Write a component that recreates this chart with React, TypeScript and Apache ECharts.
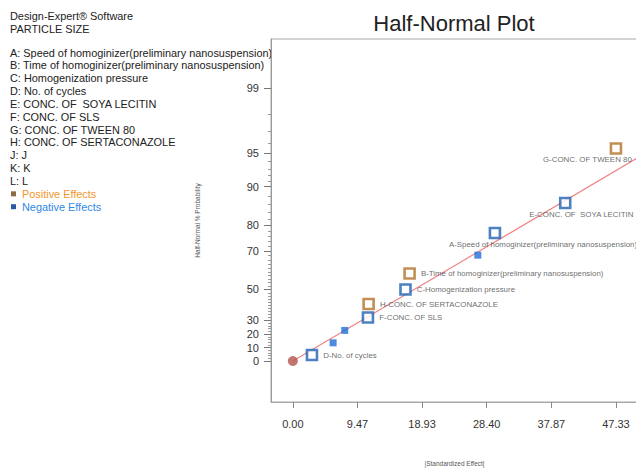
import React, { useEffect, useRef } from 'react';
import * as echarts from 'echarts';

// ---------- data ----------
const headerLines = ['Design-Expert® Software', 'PARTICLE SIZE'];
const factorLines = [
  'A: Speed of homoginizer(preliminary nanosuspension)',
  'B: Time of homoginizer(preliminary nanosuspension)',
  'C: Homogenization pressure',
  'D: No. of cycles',
  'E: CONC. OF  SOYA LECITIN',
  'F: CONC. OF SLS',
  'G: CONC. OF TWEEN 80',
  'H: CONC. OF SERTACONAZOLE',
  'J: J',
  'K: K',
  'L: L',
];
const legendLabels = ['Positive Effects', 'Negative Effects'];

// effects sorted by |standardized effect|
const effectKeys = ['D', 'J', 'K', 'F', 'H', 'C', 'B', 'L', 'A', 'E', 'G'];
const effectLabels = [
  'D-No. of cycles',
  '',
  '',
  'F-CONC. OF SLS',
  'H-CONC. OF SERTACONAZOLE',
  'C-Homogenization pressure',
  'B-Time of homoginizer(preliminary nanosuspension)',
  '',
  'A-Speed of homoginizer(preliminary nanosuspension)',
  'E-CONC. OF  SOYA LECITIN',
  'G-CONC. OF TWEEN 80',
];
const effectValues = [2.8, 5.9, 7.6, 11.0, 11.1, 16.5, 17.1, 27.1, 29.6, 39.9, 47.33];
const effectPercents = [4.5, 13.6, 22.7, 31.8, 40.9, 50.0, 59.1, 68.2, 77.3, 86.4, 95.5];
const effectSigns = ['neg', 'neg', 'neg', 'neg', 'pos', 'neg', 'pos', 'neg', 'neg', 'neg', 'pos'];

const originPoint = [0, 0];
const fitLine = [
  [0, 0],
  [50.56, 94.5],
];

const xTickValues = [0, 9.47, 18.93, 28.4, 37.87, 47.33];
const yTickPercents = [0, 10, 20, 30, 50, 70, 80, 90, 95, 99];
const yMinorPercents = [
  2, 4, 6, 8, 12, 14, 16, 18, 22, 24, 26, 28, 32, 34, 36, 38, 40, 42, 44, 46, 48, 52, 54, 56, 58, 60, 62, 64, 66,
  68, 72, 74, 76, 78, 82, 84, 86, 88, 91, 92, 93, 94, 96, 97, 98,
];

// ---------- scale helpers (half-normal probability axis) ----------
function invNorm(p: number): number {
  const a = [-3.969683028665376e1, 2.209460984245205e2, -2.759285104469687e2, 1.38357751867269e2, -3.066479806614716e1, 2.506628277459239];
  const b = [-5.447609879822406e1, 1.615858368580409e2, -1.556989798598866e2, 6.680131188771972e1, -1.328068155288572e1];
  const c = [-7.784894002430293e-3, -3.223964580411365e-1, -2.400758277161838, -2.549732539343734, 4.374664141464968, 2.938163982698783];
  const d = [7.784695709041462e-3, 3.224671290700398e-1, 2.445134137142996, 3.754408661907416];
  const pl = 0.02425;
  let q: number, r: number;
  if (p < pl) {
    q = Math.sqrt(-2 * Math.log(p));
    return (((((c[0] * q + c[1]) * q + c[2]) * q + c[3]) * q + c[4]) * q + c[5]) / ((((d[0] * q + d[1]) * q + d[2]) * q + d[3]) * q + 1);
  }
  if (p <= 1 - pl) {
    q = p - 0.5;
    r = q * q;
    return ((((((a[0] * r + a[1]) * r + a[2]) * r + a[3]) * r + a[4]) * r + a[5]) * q) / (((((b[0] * r + b[1]) * r + b[2]) * r + b[3]) * r + b[4]) * r + 1);
  }
  q = Math.sqrt(-2 * Math.log(1 - p));
  return -(((((c[0] * q + c[1]) * q + c[2]) * q + c[3]) * q + c[4]) * q + c[5]) / ((((d[0] * q + d[1]) * q + d[2]) * q + d[3]) * q + 1);
}
const hz = (pct: number) => (pct <= 0 ? 0 : invNorm(0.5 + pct / 200));

// ---------- styling ----------
const FONT = "'Liberation Sans', Arial, sans-serif";
const BLUE = '#2062b2';
const BROWN = '#b3722c';
const FILLED_BLUE = '#1f6fd8';
const X_MIN = -3.2;
const X_MAX = 50.56;
const Y_MIN = -0.387;
const Y_MAX = 3.038;
const labelLayout: Record<string, any> = {
  D: { position: 'right', distance: 5 },
  F: { position: 'right', distance: 5 },
  H: { position: 'right', distance: 5 },
  C: { position: 'right', distance: 5 },
  B: { position: 'right', distance: 5 },
  A: { position: 'bottom', align: 'left', offset: [-46, 0], distance: 1 },
  E: { position: 'bottom', align: 'left', offset: [-36, 0], distance: 1 },
  G: { position: 'bottom', align: 'left', offset: [-73, 0], distance: 1 },
};

export default function App() {
  const ref = useRef<HTMLDivElement>(null);
  useEffect(() => {
    const chart = echarts.init(ref.current!, null, { renderer: 'svg' });

    const labeledData: any[] = [];
    const filledData: any[] = [];
    effectKeys.forEach((k, i) => {
      const pt = [effectValues[i], hz(effectPercents[i])];
      if (effectLabels[i]) {
        const col = effectSigns[i] === 'pos' ? BROWN : BLUE;
        labeledData.push({
          value: pt,
          itemStyle: { color: '#ffffff', borderColor: col, borderWidth: 2.6 },
          label: {
            show: true,
            formatter: effectLabels[i],
            ...labelLayout[k],
          },
        });
      } else {
        filledData.push({ value: pt });
      }
    });

    const graphics: any[] = [];
    headerLines.forEach((t, i) => {
      graphics.push({
        type: 'text',
        x: 10,
        y: 16 + i * 13,
        style: { text: t, fill: '#222', font: `10.9px ${FONT}`, verticalAlign: 'middle' },
      });
    });
    factorLines.forEach((t, i) => {
      graphics.push({
        type: 'text',
        x: 10,
        y: 52.5 + i * 12.85,
        style: { text: t, fill: '#222', font: `10.9px ${FONT}`, verticalAlign: 'middle' },
      });
    });
    legendLabels.forEach((t, i) => {
      const y = 52.5 + (factorLines.length + i) * 12.85;
      graphics.push({
        type: 'rect',
        shape: { x: 11, y: y - 2.5, width: 5, height: 5 },
        style: { fill: i === 0 ? '#8e6a45' : '#2a5aa6' },
      });
      graphics.push({
        type: 'text',
        x: 22,
        y,
        style: { text: t, fill: i === 0 ? '#f2962c' : '#2e8ae6', font: `10.9px ${FONT}`, verticalAlign: 'middle' },
      });
    });
    graphics.push({
      type: 'text',
      x: 454,
      y: 23,
      style: { text: 'Half-Normal Plot', fill: '#222', font: `22px ${FONT}`, align: 'center', verticalAlign: 'middle' },
    });

    const yMajor = yTickPercents.map(hz);
    const yMinor = yMinorPercents.map(hz);

    const option: any = {
      animation: false,
      backgroundColor: '#ffffff',
      textStyle: { fontFamily: FONT },
      graphic: graphics,
      grid: {
        left: 271,
        right: -2,
        top: 39,
        bottom: 67,
        show: true,
        borderColor: '#a8a8a8',
        borderWidth: 1,
        containLabel: false,
        outerBoundsMode: 'none',
      },
      xAxis: {
        type: 'value',
        min: X_MIN,
        max: X_MAX,
        name: '|Standardized Effect|',
        nameLocation: 'middle',
        nameGap: 58,
        nameTextStyle: { fontSize: 6.5, color: '#555' },
        splitLine: { show: false },
        axisLine: { show: true, onZero: false, lineStyle: { color: '#a8a8a8' } },
        axisTick: { show: true, customValues: xTickValues, length: 6, lineStyle: { color: '#888' } },
        axisLabel: {
          customValues: xTickValues,
          formatter: (v: number) => v.toFixed(2),
          color: '#333',
          fontSize: 11,
          margin: 16,
        },
      },
      yAxis: [
        {
          type: 'value',
          min: Y_MIN,
          max: Y_MAX,
          position: 'left',
          name: 'Half-Normal % Probability',
          nameLocation: 'middle',
          nameGap: 70,
          nameRotate: 90,
          nameTextStyle: { fontSize: 6.5, color: '#555' },
          splitLine: { show: false },
          axisLine: { show: true, onZero: false, lineStyle: { color: '#9a9a9a' } },
          axisTick: { show: true, customValues: yMajor, length: 7, lineStyle: { color: '#777' } },
          axisLabel: {
            customValues: yMajor,
            formatter: (v: number) => {
              let best = 0;
              yTickPercents.forEach((p, i) => {
                if (Math.abs(hz(p) - v) < Math.abs(hz(yTickPercents[best]) - v)) best = i;
              });
              return String(yTickPercents[best]);
            },
            color: '#333',
            fontSize: 11,
            margin: 12,
          },
        },
        {
          type: 'value',
          min: Y_MIN,
          max: Y_MAX,
          position: 'left',
          offset: 0,
          splitLine: { show: false },
          axisLine: { show: false, onZero: false },
          axisLabel: { show: false },
          axisTick: { show: true, customValues: yMinor, length: 3, lineStyle: { color: '#999' } },
        },
      ],
      series: [
        {
          type: 'line',
          data: fitLine.map(([x, p]) => [x, hz(p)]),
          symbol: 'none',
          silent: true,
          lineStyle: { color: '#f08585', width: 1.2 },
          z: 1,
        },
        {
          type: 'scatter',
          data: [[originPoint[0], hz(originPoint[1])]],
          symbol: 'circle',
          symbolSize: 10,
          itemStyle: { color: '#b4544c' },
          z: 3,
        },
        {
          type: 'scatter',
          data: filledData,
          symbol: 'rect',
          symbolSize: 7,
          itemStyle: { color: FILLED_BLUE },
          z: 3,
        },
        {
          type: 'scatter',
          data: labeledData,
          symbol: 'rect',
          symbolSize: 10,
          z: 4,
          label: { color: '#444', fontSize: 7.9, fontFamily: FONT },
        },
      ],
    };
    chart.setOption(option);
    return () => chart.dispose();
  }, []);
  return (
    <div
      ref={ref}
      style={{ position: 'fixed', left: 0, top: 0, width: 636, height: 469, background: '#ffffff' }}
    />
  );
}
